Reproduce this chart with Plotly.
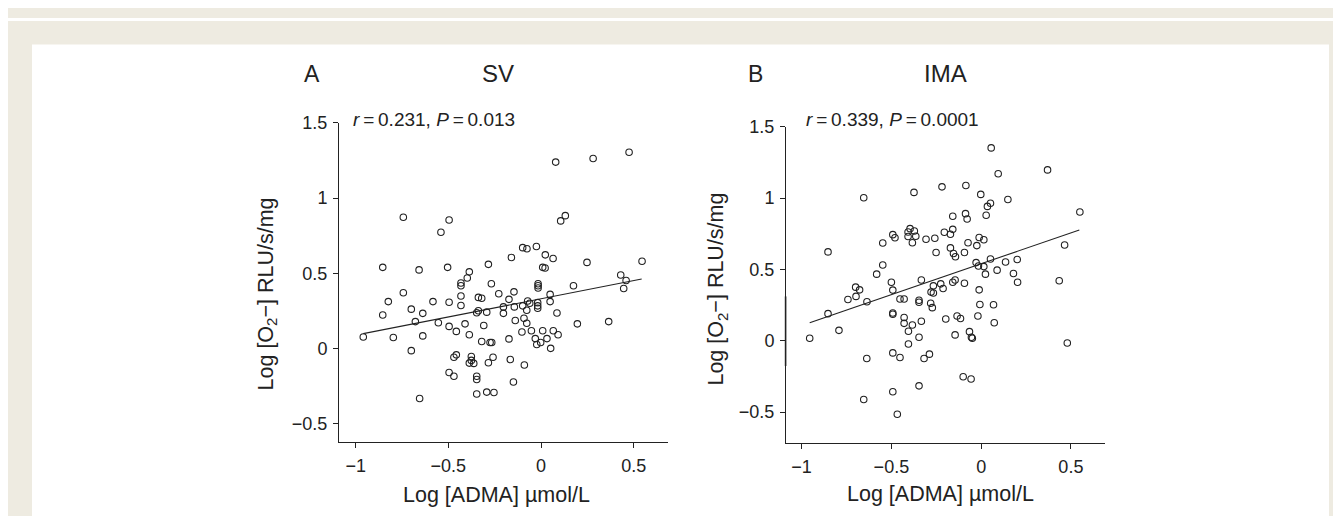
import plotly.graph_objects as go

# ---------------- data ----------------
sv_x = [0.079, 0.281, 0.475, -0.743, -0.496, -0.540, 0.106, 0.131, -0.099, -0.076, -0.025, 0.023, 0.065,
        -0.160, -0.284, 0.248, 0.545, -0.854, -0.658, -0.504, -0.387, 0.009, 0.022, 0.430,
        -0.398, -0.432, -0.432, -0.268, -0.016, -0.016, -0.016, 0.175, 0.459, 0.446, -0.743, -0.824,
        -0.583, -0.496, -0.432, -0.432, -0.338, -0.320, -0.228, -0.146, -0.173, -0.072, -0.061, -0.018,
        -0.018, -0.018, 0.049, 0.049, -0.203, -0.203, -0.144, -0.099, -0.077, -0.338, -0.347, -0.293,
        -0.700, -0.638, -0.854, 0.086, -0.678, -0.554, -0.410, -0.309, -0.496, -0.139, -0.092, -0.077,
        0.196, 0.365, -0.959, -0.797, -0.638, -0.457, -0.387, -0.320, -0.275, -0.266, -0.173, -0.103,
        -0.052, 0.009, 0.066, 0.092, -0.031, -0.023, -0.002, 0.032, 0.052, -0.700, -0.457, -0.470,
        -0.376, -0.376, -0.387, -0.363, -0.259, -0.284, -0.166, -0.090, -0.496, -0.470, -0.347, -0.347,
        -0.149, -0.655, -0.347, -0.293, -0.254]
sv_y = [1.239, 1.263, 1.305, 0.872, 0.854, 0.772, 0.848, 0.883, 0.670, 0.663, 0.678, 0.622, 0.598,
        0.605, 0.559, 0.572, 0.580, 0.539, 0.522, 0.539, 0.509, 0.539, 0.535, 0.488,
        0.468, 0.435, 0.417, 0.430, 0.430, 0.417, 0.402, 0.417, 0.452, 0.398, 0.370, 0.311,
        0.311, 0.307, 0.348, 0.285, 0.339, 0.333, 0.363, 0.376, 0.326, 0.315, 0.300, 0.304,
        0.283, 0.267, 0.359, 0.311, 0.276, 0.233, 0.276, 0.283, 0.254, 0.250, 0.237, 0.241,
        0.261, 0.233, 0.222, 0.235, 0.178, 0.170, 0.163, 0.152, 0.146, 0.185, 0.200, 0.167,
        0.163, 0.178, 0.076, 0.072, 0.083, 0.113, 0.091, 0.046, 0.039, 0.039, 0.063, 0.109,
        0.117, 0.117, 0.117, 0.091, 0.065, 0.026, 0.039, 0.065, 0.000, -0.015, -0.043, -0.059,
        -0.054, -0.080, -0.098, -0.100, -0.059, -0.096, -0.074, -0.111, -0.161, -0.185, -0.185, -0.207,
        -0.224, -0.333, -0.304, -0.291, -0.294]

ima_x = [0.056, 0.370, 0.095, -0.218, -0.085, -0.374, -0.654, -0.002, 0.149, 0.052, 0.035, 0.550,
         -0.158, -0.087, -0.078, 0.028, -0.492, -0.480, -0.548, -0.396, -0.407, -0.372, -0.407, -0.364,
         -0.383, -0.307, -0.258, -0.205, -0.171, -0.158, -0.011, 0.015, -0.073, -0.024, -0.251, -0.171,
         -0.154, -0.143, -0.093, -0.853, 0.465, 0.052, 0.201, 0.136, -0.028, -0.015, 0.015, -0.548,
         0.089, 0.180, -0.582,
         0.024, 0.203, 0.435, -0.500, -0.492, -0.333, -0.266, -0.279, -0.266, -0.225, -0.212, -0.158,
         -0.145, -0.093, -0.011, -0.699, -0.677, -0.742, -0.697, -0.636, -0.452, -0.429, -0.346, -0.346,
         -0.281, -0.272, -0.007, 0.069, -0.853, -0.492, -0.492, -0.429, -0.429, -0.383, -0.405, -0.333,
         -0.197, -0.134, -0.115, -0.018, 0.073, -0.792, -0.955, -0.145, -0.065, -0.054, -0.049, -0.346,
         -0.405, 0.480, -0.492, -0.452, -0.637, -0.318, -0.288, -0.100, -0.056, -0.346, -0.492, -0.654,
         -0.467]
ima_y = [1.352, 1.198, 1.171, 1.079, 1.088, 1.040, 1.003, 1.026, 0.990, 0.964, 0.942, 0.903,
         0.873, 0.891, 0.854, 0.880, 0.744, 0.722, 0.685, 0.786, 0.763, 0.770, 0.731, 0.733,
         0.687, 0.712, 0.719, 0.761, 0.747, 0.781, 0.724, 0.708, 0.687, 0.667, 0.619, 0.651,
         0.612, 0.589, 0.619, 0.623, 0.671, 0.573, 0.570, 0.552, 0.548, 0.524, 0.520, 0.531,
         0.495, 0.472, 0.467,
         0.467, 0.410, 0.421, 0.410, 0.355, 0.426, 0.385, 0.341, 0.335, 0.399, 0.366, 0.410,
         0.426, 0.403, 0.357, 0.376, 0.357, 0.289, 0.311, 0.273, 0.293, 0.293, 0.284, 0.270,
         0.263, 0.232, 0.254, 0.252, 0.190, 0.195, 0.186, 0.163, 0.122, 0.110, 0.067, 0.137,
         0.153, 0.174, 0.156, 0.174, 0.126, 0.073, 0.018, 0.041, 0.064, 0.025, 0.018, 0.025,
         -0.023, -0.016, -0.085, -0.117, -0.124, -0.124, -0.094, -0.252, -0.268, -0.316, -0.357, -0.412,
         -0.515]

sv_fit_x = [-0.959, 0.543]
sv_fit_y = [0.098, 0.461]
ima_fit_x = [-0.955, 0.547]
ima_fit_y = [0.126, 0.777]

panel_letters = ["A", "B"]
panel_titles = ["SV", "IMA"]
stats_text = ["<i>r</i>\u2009=\u20090.231, <i>P</i>\u2009=\u20090.013",
              "<i>r</i>\u2009=\u20090.339, <i>P</i>\u2009=\u20090.0001"]
x_title = "Log [ADMA] \u00b5mol/L"
y_title = "Log [O<sub>2</sub>\u2212] RLU/s/mg"

# ---------------- layout helpers ----------------
# The page body keeps its default 8 px margin, so the figure starts at
# screen (8, 8); it is sized to end exactly at the window edge.
OFF = 8
W, H = 1341 - OFF, 516 - OFF
def fx(sx):
    return (sx - OFF) / W
def fy(sy):
    return 1 - (sy - OFF) / H

INK = "#222222"
FONT = "Liberation Sans, Arial, sans-serif"

fig = go.Figure()

marker = dict(symbol="circle-open", size=6.5, color=INK, line=dict(width=1.1, color=INK))

fig.add_trace(go.Scatter(x=sv_x, y=sv_y, mode="markers", marker=marker,
                         xaxis="x", yaxis="y", showlegend=False))
fig.add_trace(go.Scatter(x=sv_fit_x, y=sv_fit_y, mode="lines", line=dict(color=INK, width=1.1),
                         xaxis="x", yaxis="y", showlegend=False))
fig.add_trace(go.Scatter(x=ima_x, y=ima_y, mode="markers", marker=marker,
                         xaxis="x2", yaxis="y2", showlegend=False))
fig.add_trace(go.Scatter(x=ima_fit_x, y=ima_fit_y, mode="lines", line=dict(color=INK, width=1.1),
                         xaxis="x2", yaxis="y2", showlegend=False))

axis_common = dict(showline=True, linecolor=INK, linewidth=1, ticks="outside", ticklen=5,
                   tickcolor=INK, tickwidth=1, showgrid=False, zeroline=False,
                   tickfont=dict(family=FONT, size=18, color=INK), dtick=0.5, tick0=0,
                   ticklabelstandoff=2, fixedrange=True)

fig.update_layout(
    width=W, height=H,
    margin=dict(l=0, r=0, t=0, b=0),
    paper_bgcolor="#eeebe1",
    plot_bgcolor="rgba(0,0,0,0)",
    font=dict(family=FONT, color=INK),
    xaxis=dict(axis_common, domain=[fx(339), fx(668)], range=[-1.09, 0.685], anchor="y"),
    yaxis=dict(axis_common, domain=[fy(441), fy(115)], range=[-0.626, 1.5], anchor="x"),
    xaxis2=dict(axis_common, domain=[fx(786), fx(1105)], range=[-1.087, 0.69], anchor="y2"),
    yaxis2=dict(axis_common, domain=[fy(442), fy(119)], range=[-0.72, 1.5], anchor="x2"),
    shapes=[
        dict(type="rect", xref="paper", yref="paper", x0=fx(32), x1=fx(1329), y0=0, y1=fy(35),
             fillcolor="white", line=dict(width=0), layer="below"),
        dict(type="rect", xref="paper", yref="paper", x0=0, x1=1, y0=fy(11), y1=1,
             fillcolor="white", line=dict(width=0), layer="below"),
        dict(type="line", xref="paper", yref="paper", x0=fx(785.6), x1=fx(785.6),
             y0=fy(292), y1=fy(363), line=dict(color=INK, width=1.6)),
    ],
)

annotations = []
letter_pos = [(312, 65), (755, 65)]
title_pos = [(498, 65), (945, 65)]
stats_pos = [(351, 112), (804, 112)]
xt_pos = [(496, 495), (940, 494)]
yt_pos = [(267, 290), (718, 285)]
for i in range(2):
    annotations.append(dict(text=panel_letters[i], x=fx(letter_pos[i][0]), y=fy(letter_pos[i][1]),
                            xref="paper", yref="paper", showarrow=False, xanchor="center",
                            yanchor="middle", font=dict(size=23, family=FONT, color=INK)))
    annotations.append(dict(text=panel_titles[i], x=fx(title_pos[i][0]), y=fy(title_pos[i][1]),
                            xref="paper", yref="paper", showarrow=False, xanchor="center",
                            yanchor="middle", font=dict(size=24, family=FONT, color=INK)))
    annotations.append(dict(text=stats_text[i], x=fx(stats_pos[i][0]), y=fy(stats_pos[i][1]),
                            xref="paper", yref="paper", showarrow=False, xanchor="left",
                            yanchor="middle", font=dict(size=19, family=FONT, color=INK)))
    annotations.append(dict(text=x_title, x=fx(xt_pos[i][0]), y=fy(xt_pos[i][1]),
                            xref="paper", yref="paper", showarrow=False, xanchor="center",
                            yanchor="middle", font=dict(size=21.5, family=FONT, color=INK)))
    annotations.append(dict(text=y_title, x=fx(yt_pos[i][0]), y=fy(yt_pos[i][1]),
                            xref="paper", yref="paper", showarrow=False, xanchor="center",
                            yanchor="middle", textangle=-90,
                            font=dict(size=21.5, family=FONT, color=INK)))
fig.update_layout(annotations=annotations)

fig.write_html("out.html", config={"displayModeBar": False})
